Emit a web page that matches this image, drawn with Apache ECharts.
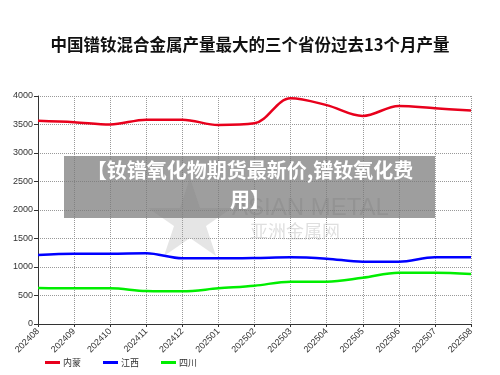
<!DOCTYPE html>
<html><head><meta charset="utf-8">
<script src="https://cdn.jsdelivr.net/npm/echarts@6/dist/echarts.min.js"></script>
<style>html,body{margin:0;padding:0;background:#fff}#c{width:500px;height:375px}</style>
</head><body><div id="c"></div>
<script>
const categories = ['202408','202409','202410','202411','202412','202501','202502','202503','202504','202505','202506','202507','202508'];
const neimeng = [3565,3540,3500,3585,3585,3490,3520,3960,3840,3650,3825,3785,3745];
const jiangxi = [1210,1233,1233,1240,1152,1152,1158,1170,1146,1093,1093,1170,1170];
const sichuan = [632,626,626,579,573,626,672,742,742,812,900,900,877];
const yTicks = {min:0,max:4000,interval:500};

const chart = echarts.init(document.getElementById('c'));
const mk = (name, data, color) => ({
  name, type:'line', data, smooth:0.35, symbol:'none',
  lineStyle:{color, width:2.5}, itemStyle:{color}, z:3
});
chart.setOption({
  animation:false,
  title:{text:'中国镨钕混合金属产量最大的三个省份过去13个月产量', left:'center', top:31,
    textStyle:{fontFamily:'Noto Sans CJK SC', fontWeight:'bold', fontSize:16.5, color:'#111'}},
  grid:{left:38, right:29, top:96, bottom:51},
  xAxis:{type:'category', data:categories, boundaryGap:false,
    axisLine:{lineStyle:{color:'#333', width:1}},
    axisTick:{show:true, inside:false, length:3, lineStyle:{color:'#333'}},
    splitLine:{show:true, lineStyle:{color:'#999', type:'dotted', width:1}},
    axisLabel:{rotate:45, fontSize:9, color:'#333', margin:6, fontFamily:'Liberation Sans'}},
  yAxis:{type:'value', min:yTicks.min, max:yTicks.max, interval:yTicks.interval,
    axisLine:{show:true, lineStyle:{color:'#333', width:1}},
    axisTick:{show:true, length:4, lineStyle:{color:'#333'}},
    splitLine:{show:true, lineStyle:{color:'#999', type:'dotted', width:1}},
    axisLabel:{fontSize:9, color:'#333', margin:5, fontFamily:'Liberation Sans', formatter:v => String(v)}},
  legend:{bottom:3, left:40, itemGap:22, itemWidth:15, itemHeight:3, icon:'rect',
    textStyle:{fontSize:9, color:'#333', fontFamily:'Noto Sans CJK SC', padding:[0,0,0,-2]},
    data:['内蒙','江西','四川']},
  series:[mk('内蒙',neimeng,'#e8001c'), mk('江西',jiangxi,'#0000ff'), mk('四川',sichuan,'#00ee00')],
  graphic:[
    {type:'text', left:232, top:196, z:1, style:{text:'ASIAN METAL', fontSize:24, fill:'rgba(150,150,150,0.35)', fontFamily:'Liberation Sans'}},
    {type:'text', left:250, top:222, z:1, style:{text:'亚洲金属网', fontSize:18, fill:'rgba(150,150,150,0.3)', fontFamily:'Noto Sans CJK SC'}},
    {type:'polygon', z:1, shape:{points:[[190,178],[200,208],[232,208],[206,226],[216,256],[190,238],[164,256],[174,226],[148,208],[180,208]]}, style:{fill:'rgba(170,170,170,0.3)'}},
    {type:'rect', z:10, shape:{x:64, y:156, width:371, height:62}, style:{fill:'rgba(120,120,120,0.72)'}},
    {type:'text', z:11, left:'center', top:160, style:{text:'【钕镨氧化物期货最新价,镨钕氧化费', fontSize:20, fontWeight:'bold', fill:'#fff', fontFamily:'Noto Sans CJK SC'}},
    {type:'text', z:11, left:'center', top:189, style:{text:'用】', fontSize:20, fontWeight:'bold', fill:'#fff', fontFamily:'Noto Sans CJK SC'}}
  ]
});
</script></body></html>
